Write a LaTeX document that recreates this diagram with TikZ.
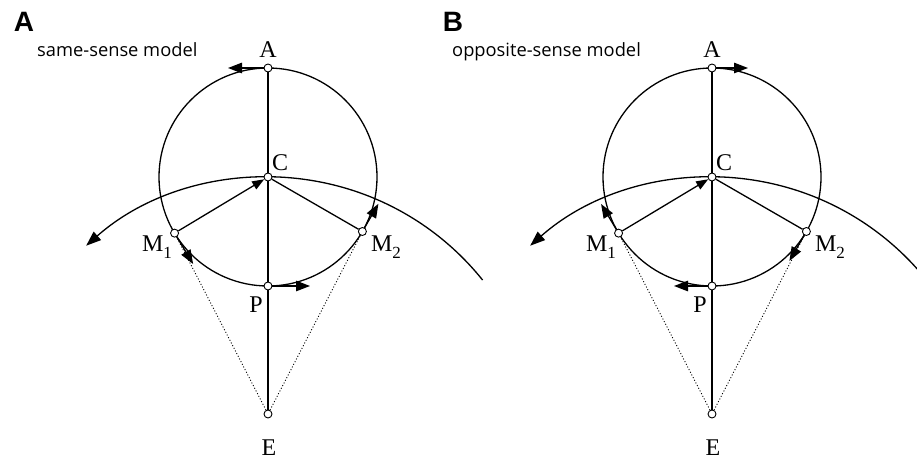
\documentclass[tikz,border=0pt]{standalone}
\usepackage{fontspec}
\newfontfamily\osans{Open Sans}
\newfontfamily\lsans{Liberation Sans}
\newfontfamily\lserif{Liberation Serif}
\usetikzlibrary{arrows.meta,calc}
\newcommand{\subidx}[1]{\raisebox{-0.28em}{\fontsize{17}{17}\selectfont #1}}
\tikzset{
  pt/.style={circle,draw,fill=white,line width=0.9pt,inner sep=0pt,minimum size=8pt},
  lbl/.style={inner sep=0pt,font=\lserif\fontsize{24}{26}\selectfont},
  ttl/.style={inner sep=0pt,anchor=base west,font=\osans\fontsize{18.3}{20}\selectfont},
  pnl/.style={inner sep=0pt,font=\lsans\bfseries\fontsize{28}{30}\selectfont},
  ln/.style={line width=1.3pt},
  arr/.style={line width=1.3pt,-{Triangle[length=14pt,width=10.5pt]}},
  dot/.style={line width=0.9pt,dash pattern=on 1pt off 2pt},
}
\begin{document}
\begin{tikzpicture}[x=1pt,y=1pt]
\useasboundingbox (0,0) rectangle (917,460);
\clip (0,0) rectangle (917,460);
% ---------- Panel A ----------
\coordinate (aO) at (268,8);
\draw[ln] (268,283) circle[radius=109];
\draw[line width=1.3pt,{Triangle[length=15pt,width=11pt]}-] ($(aO)+(131.4:275)$) arc[start angle=131.4,end angle=38.7,radius=275];
\node[pt] (aA) at (268,392) {};
\node[pt] (aC) at (268,283) {};
\node[pt] (aP) at (268,174) {};
\node[pt] (aE) at (268,46) {};
\node[pt] (aM1) at ($(268,283)+(211:109)$) {};
\node[pt] (aM2) at ($(268,283)+(330:109)$) {};
\coordinate (aAt) at ($(aA)+(180:40)$);
\coordinate (aPt) at ($(aP)+(0:42)$);
\coordinate (aM1t) at ($(aM1)+(301:36)$);
\coordinate (aM2t) at ($(aM2)+(60:32)$);
\draw[line width=1.5pt] (aA) -- (aC) (aC) -- (aP) (aP) -- (aE);
\draw[ln,-{Triangle[length=12pt,width=9pt]}] (aM1) -- (aC);
\draw[ln] (aC) -- (aM2);
\draw[dot] (aE) -- (aM1) (aE) -- (aM2);
\draw[arr] (aA) -- (aAt);
\draw[arr] (aP) -- (aPt);
\draw[arr] (aM1) -- (aM1t);
\draw[arr] (aM2) -- (aM2t);
\node[lbl] (aAl) at (268,410) {A};
\node[lbl] (aCl) at (280,297) {C};
\node[lbl] (aM1l) at (157,213) {M\subidx{1}};
\node[lbl] (aM2l) at (386,213) {M\subidx{2}};
\node[lbl] (aPl) at (256,155) {P};
\node[lbl] (aEl) at (269,12) {E};
\node[pnl] (pa) at (24,438) {A};
\node[ttl] (ta) at (37,403) {same-sense model};
% ---------- Panel B ----------
\coordinate (bO) at (712,8);
\draw[ln] (712,283) circle[radius=109];
\draw[line width=1.3pt,{Triangle[length=15pt,width=11pt]}-] ($(bO)+(131.4:275)$) arc[start angle=131.4,end angle=38.7,radius=275];
\node[pt] (bA) at (712,392) {};
\node[pt] (bC) at (712,283) {};
\node[pt] (bP) at (712,174) {};
\node[pt] (bE) at (712,46) {};
\node[pt] (bM1) at ($(712,283)+(211:109)$) {};
\node[pt] (bM2) at ($(712,283)+(330:109)$) {};
\coordinate (bAt) at ($(bA)+(0:36)$);
\coordinate (bPt) at ($(bP)+(180:38)$);
\coordinate (bM1t) at ($(bM1)+(121:34)$);
\coordinate (bM2t) at ($(bM2)+(240:34)$);
\draw[line width=1.5pt] (bA) -- (bC) (bC) -- (bP) (bP) -- (bE);
\draw[ln,-{Triangle[length=12pt,width=9pt]}] (bM1) -- (bC);
\draw[ln] (bC) -- (bM2);
\draw[dot] (bE) -- (bM1) (bE) -- (bM2);
\draw[arr] (bA) -- (bAt);
\draw[arr] (bP) -- (bPt);
\draw[arr] (bM1) -- (bM1t);
\draw[arr] (bM2) -- (bM2t);
\node[lbl] (bAl) at (712,410) {A};
\node[lbl] (bCl) at (724,297) {C};
\node[lbl] (bM1l) at (601,213) {M\subidx{1}};
\node[lbl] (bM2l) at (830,213) {M\subidx{2}};
\node[lbl] (bPl) at (700,155) {P};
\node[lbl] (bEl) at (713,12) {E};
\node[pnl] (pb) at (453,438) {B};
\node[ttl] (tb) at (452,403) {opposite-sense model};
\end{tikzpicture}
\end{document}
